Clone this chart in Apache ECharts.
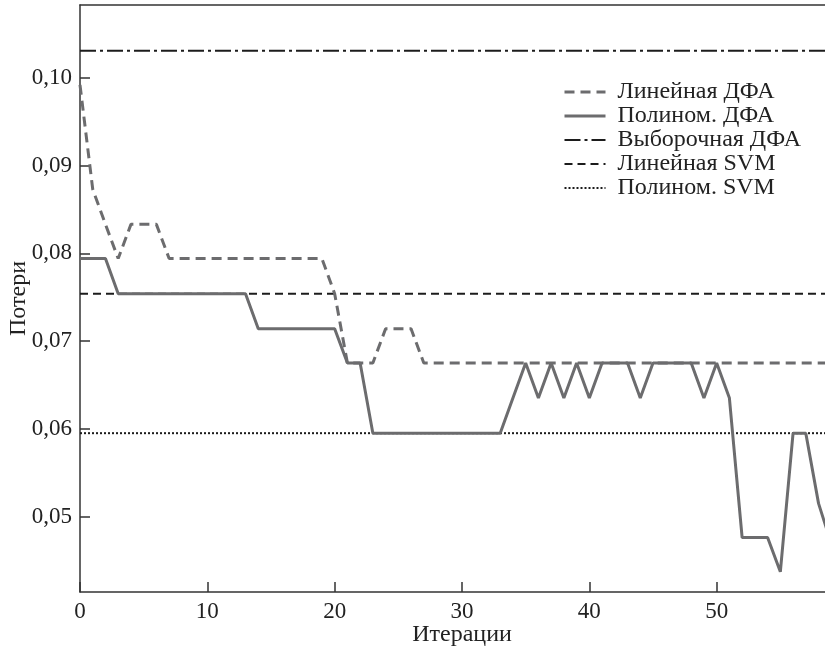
<!DOCTYPE html>
<html>
<head>
<meta charset="utf-8">
<script src="https://cdn.jsdelivr.net/npm/echarts@6/dist/echarts.min.js"></script>
<style>
  html, body { margin: 0; padding: 0; background: #fff; }
  #chart { width: 825px; height: 648px; }
</style>
</head>
<body>
<div id="chart"></div>
<script>
// values per iteration
var linDfa = [
    0.0992, 0.0873, 0.0833, 0.0794, 0.0833, 0.0833, 0.0833, 0.0794, 0.0794, 0.0794,
    0.0794, 0.0794, 0.0794, 0.0794, 0.0794, 0.0794, 0.0794, 0.0794, 0.0794, 0.0794,
    0.0754, 0.0675, 0.0675, 0.0675, 0.0714, 0.0714, 0.0714, 0.0675, 0.0675, 0.0675,
    0.0675, 0.0675, 0.0675, 0.0675, 0.0675, 0.0675, 0.0675, 0.0675, 0.0675, 0.0675,
    0.0675, 0.0675, 0.0675, 0.0675, 0.0675, 0.0675, 0.0675, 0.0675, 0.0675, 0.0675,
    0.0675, 0.0675, 0.0675, 0.0675, 0.0675, 0.0675, 0.0675, 0.0675, 0.0675, 0.0675,
    0.0675
];
var polyDfa = [
    0.0794, 0.0794, 0.0794, 0.0754, 0.0754, 0.0754, 0.0754, 0.0754, 0.0754, 0.0754,
    0.0754, 0.0754, 0.0754, 0.0754, 0.0714, 0.0714, 0.0714, 0.0714, 0.0714, 0.0714,
    0.0714, 0.0675, 0.0675, 0.0595, 0.0595, 0.0595, 0.0595, 0.0595, 0.0595, 0.0595,
    0.0595, 0.0595, 0.0595, 0.0595, 0.0635, 0.0675, 0.0635, 0.0675, 0.0635, 0.0675,
    0.0635, 0.0675, 0.0675, 0.0675, 0.0635, 0.0675, 0.0675, 0.0675, 0.0675, 0.0635,
    0.0675, 0.0635, 0.0476, 0.0476, 0.0476, 0.0437, 0.0595, 0.0595, 0.0515, 0.0469
];
// constant reference levels
var sampleDfa = 0.1031;
var linSvm = 0.0754;
var polySvm = 0.0595;
var xRange = [0, 60];

var names = ['Линейная ДФА', 'Полином. ДФА', 'Выборочная ДФА', 'Линейная SVM', 'Полином. SVM'];

function toPoints(arr) {
    return arr.map(function(v, i) { return [i, v]; });
}
function flat(v) {
    return [[xRange[0], v], [xRange[1], v]];
}

var gray = '#6c6c6e',
    dark = '#1c1c1c',
    font = 'Liberation Serif';

var chart = echarts.init(document.getElementById('chart'));
chart.setOption({
    animation: false,
    backgroundColor: '#fff',
    textStyle: { fontFamily: font },
    grid: { left: 80, right: -19, top: 5, bottom: 56, outerBoundsMode: 'none', containLabel: false },
    legend: {
        orient: 'vertical',
        left: 563,
        top: 80,
        padding: 0,
        itemWidth: 41,
        itemHeight: 14,
        itemGap: 0,
        data: names,
        itemStyle: { opacity: 0 },
        lineStyle: { width: 'inherit' },
        textStyle: { fontFamily: font, fontSize: 24, color: '#222', lineHeight: 22.5, padding: [0, 0, 0, 7] }
    },
    xAxis: [{
        type: 'value',
        min: xRange[0],
        max: xRange[1],
        interval: 10,
        name: 'Итерации',
        nameLocation: 'middle',
        nameGap: 31,
        nameMoveOverlap: false,
        nameTextStyle: { fontFamily: font, fontSize: 24, color: '#222' },
        axisLine: { lineStyle: { color: '#333', width: 1.5 } },
        axisTick: { inside: true, length: 10, lineStyle: { color: '#333', width: 1.5 } },
        axisLabel: { fontFamily: font, fontSize: 23, color: '#222', margin: 8 },
        splitLine: { show: false }
    }, {
        type: 'value',
        position: 'top',
        min: xRange[0],
        max: xRange[1],
        axisLine: { show: true, lineStyle: { color: '#333', width: 1.5 } },
        axisTick: { show: false },
        axisLabel: { show: false },
        splitLine: { show: false }
    }],
    yAxis: {
        type: 'value',
        min: 0.0414,
        max: 0.1083,
        splitNumber: 6,
        name: 'Потери',
        nameLocation: 'middle',
        nameRotate: 90,
        nameGap: 49,
        nameMoveOverlap: false,
        nameTextStyle: { fontFamily: font, fontSize: 24, color: '#222' },
        axisLine: { show: true, lineStyle: { color: '#333', width: 1.5 } },
        axisTick: { inside: true, length: 10, lineStyle: { color: '#333', width: 1.5 } },
        axisLabel: {
            fontFamily: font, fontSize: 23, color: '#222', margin: 8,
            showMinLabel: false, showMaxLabel: false,
            formatter: function(v) { return v.toFixed(2).replace('.', ','); }
        },
        splitLine: { show: false }
    },
    series: [
        {
            name: names[2], type: 'line', symbol: 'none', data: flat(sampleDfa),
            lineStyle: { color: dark, width: 2, type: [16, 4, 3, 4] }, itemStyle: { color: dark }
        },
        {
            name: names[3], type: 'line', symbol: 'none', data: flat(linSvm),
            lineStyle: { color: dark, width: 2, type: [8, 5] }, itemStyle: { color: dark }
        },
        {
            name: names[4], type: 'line', symbol: 'none', data: flat(polySvm),
            lineStyle: { color: dark, width: 2, type: [2, 2] }, itemStyle: { color: dark }
        },
        {
            name: names[0], type: 'line', symbol: 'none', data: toPoints(linDfa),
            lineStyle: { color: gray, width: 3, type: [10, 6] }, itemStyle: { color: gray }
        },
        {
            name: names[1], type: 'line', symbol: 'none', data: toPoints(polyDfa),
            lineStyle: { color: gray, width: 3 }, itemStyle: { color: gray }
        }
    ]
});
</script>
</body>
</html>
